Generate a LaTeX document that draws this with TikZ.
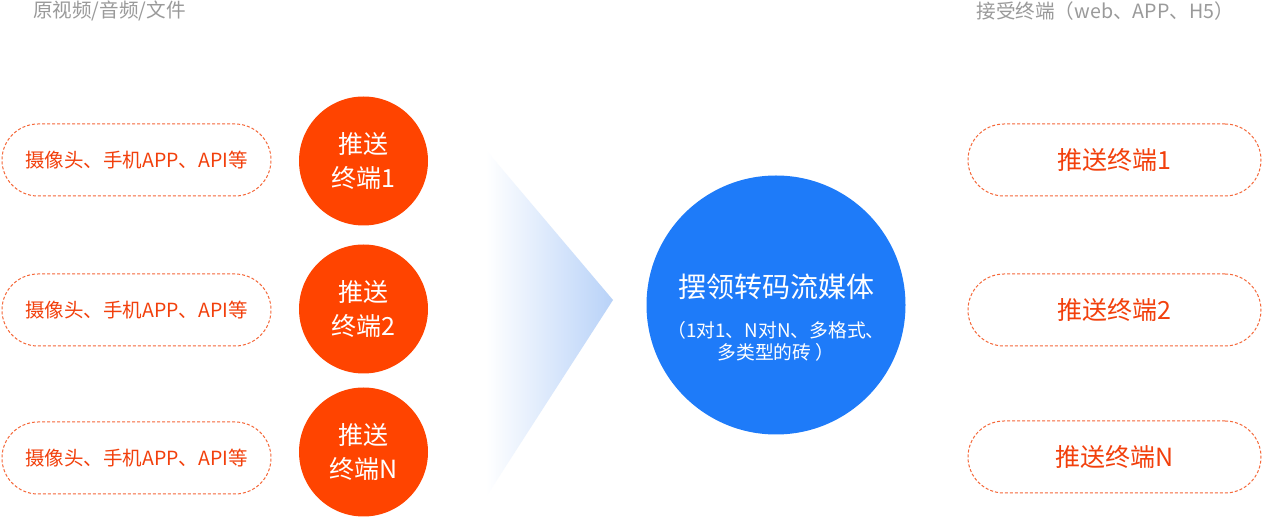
\documentclass[tikz,border=0pt]{standalone}
\usepackage{fontspec}
\setmainfont{Noto Sans CJK SC}
\usetikzlibrary{shapes.misc}
\definecolor{hdrgray}{HTML}{9A9A9A}
\definecolor{orcirc}{HTML}{FF4400}
\definecolor{ortext}{HTML}{F2400C}
\definecolor{ordash}{HTML}{F5683A}
\definecolor{bluec}{HTML}{1E7BF9}
\definecolor{chev}{HTML}{B8D2F8}
\begin{document}
\begin{tikzpicture}[x=1pt,y=-1pt,
  hdr/.style={text=hdrgray,font=\fontsize{19.6}{22}\selectfont,inner sep=0pt},
  pill/.style={draw=ordash,line width=1pt,dash pattern=on 3pt off 2pt,rounded corners=36pt,minimum width=269pt,minimum height=72pt,text=ortext,inner sep=0pt},
  srccirc/.style={circle,fill=orcirc,minimum size=129pt,inner sep=0pt,text=white,align=center,font=\fontsize{25}{34}\selectfont},
  hub/.style={circle,fill=bluec,minimum size=259pt,inner sep=0pt,text=white}
]
\useasboundingbox (0,0) rectangle (1262,518);
\fill[white] (0,0) rectangle (1262,518);
% headers
\node[hdr,anchor=west] (hl) at (33,11) {原视频/音频/文件};
\node[hdr,anchor=east] (hr) at (1234,11) {接受终端（web、APP、H5）};
% chevron
\shade[left color=white,right color=chev] (486,150) -- (613,300) -- (486,497) -- cycle;
% left pills
\node[pill,font=\fontsize{19.5}{22}\selectfont] (p1) at (136.5,160) {摄像头、手机APP、API等};
\node[pill,font=\fontsize{19.5}{22}\selectfont] (p2) at (136.5,310) {摄像头、手机APP、API等};
\node[pill,font=\fontsize{19.5}{22}\selectfont] (p3) at (136.5,458) {摄像头、手机APP、API等};
% orange circles
\node[srccirc] (c1) at (363.5,161) {推送\\终端1};
\node[srccirc] (c2) at (363.5,309) {推送\\终端2};
\node[srccirc] (c3) at (363.5,452) {推送\\终端N};
% hub
\node[hub] (hub) at (776,305) {};
\node[text=white,inner sep=0pt,font=\fontsize{28}{30}\selectfont] (ht) at (776,287) {摆领转码流媒体};
\node[text=white,inner sep=0pt,align=center,font=\fontsize{18.8}{22}\selectfont] (hs) at (776,341) {（1对1、N对N、多格式、\\多类型的砖 ）};
% right pills
\node[pill,minimum width=293pt,font=\fontsize{25}{27}\selectfont] (r1) at (1114.5,160) {推送终端1};
\node[pill,minimum width=293pt,font=\fontsize{25}{27}\selectfont] (r2) at (1114.5,310) {推送终端2};
\node[pill,minimum width=293pt,font=\fontsize{25}{27}\selectfont] (r3) at (1114.5,457) {推送终端N};
\end{tikzpicture}
\end{document}
